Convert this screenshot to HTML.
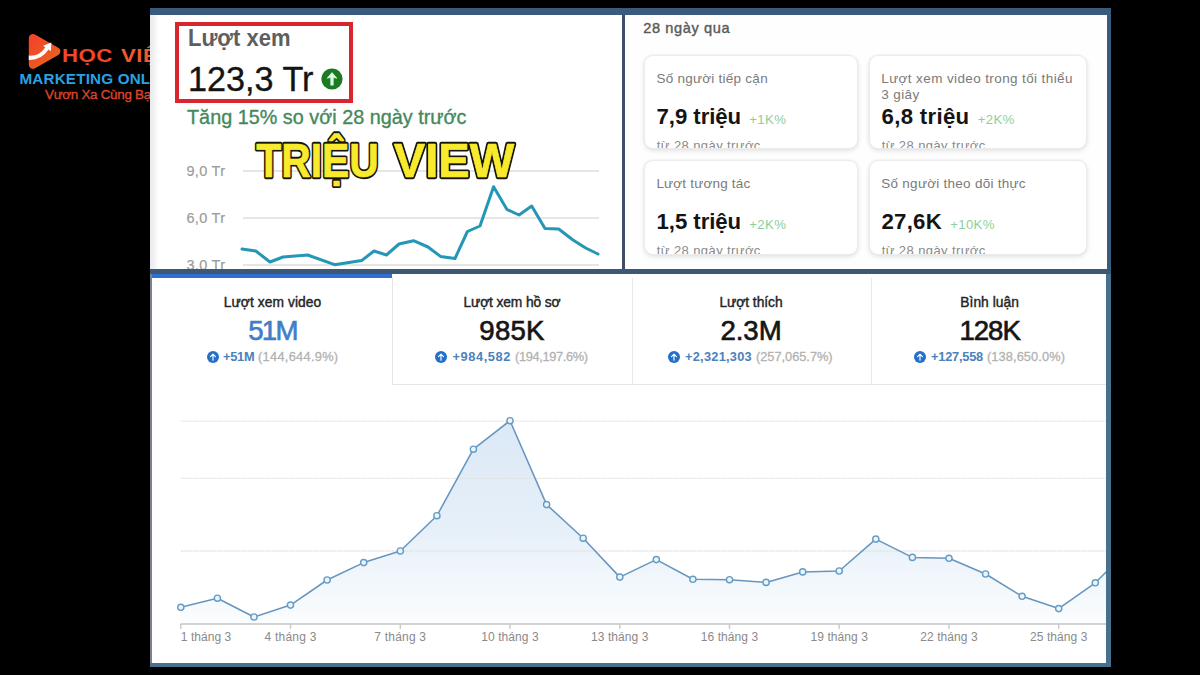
<!DOCTYPE html>
<html><head><meta charset="utf-8"><title>Trieu view</title>
<style>
html,body{margin:0;padding:0;background:#000;}
body{width:1200px;height:675px;position:relative;overflow:hidden;font-family:"Liberation Sans",sans-serif;}
.abs{position:absolute;}
.t{position:absolute;white-space:nowrap;line-height:1;}
.card{position:absolute;width:214.6px;height:95.2px;border-radius:9px;background:#fff;border:1px solid #ececec;box-sizing:border-box;box-shadow:0 2px 5px rgba(0,0,0,.10),0 0 3px rgba(0,0,0,.05);overflow:hidden;}
.card .t{}
</style></head><body>

<!-- logo (clipped by the panel) -->
<div class="abs" id="logo" style="left:0;top:0;width:150px;height:130px;overflow:hidden">
<svg class="abs" style="left:26px;top:31px" width="40" height="42" viewBox="0 0 40 42">
<defs><linearGradient id="lg" x1="0" y1="0" x2="1" y2="1"><stop offset="0" stop-color="#f2452a"/><stop offset="1" stop-color="#e8641f"/></linearGradient></defs>
<path d="M7 7.2 L30.2 20.3 L7 33.6 Z" fill="url(#lg)" stroke="url(#lg)" stroke-width="8.4" stroke-linejoin="round"/>
<path d="M2.8 24.6 Q13 25.6 19.3 16.4 L17.2 14.8 L25.4 11.4 L24.8 20.2 L22.6 18.6 Q15 29.6 2.8 29 Z" fill="#fff"/>
</svg>
<span class="t" style="left:62px;top:48px;font-size:17.5px;font-weight:700;color:#f0472c;letter-spacing:0.4px;transform:scaleX(1.27);transform-origin:0 0;">HỌC</span>
<span class="t" style="left:120.5px;top:48px;font-size:17.5px;font-weight:700;color:#ee5a2a;letter-spacing:0.4px;transform:scaleX(1.27);transform-origin:0 0;">VIỆN</span>
<span class="t" style="left:19.5px;top:71px;font-size:15.2px;font-weight:700;color:#2aa2e2;letter-spacing:0.2px;">MARKETING ONLINE</span>
<span class="t" style="left:45px;top:88px;font-size:13.4px;font-weight:400;color:#dc452c;letter-spacing:-0.28px;-webkit-text-stroke:0.35px #dc452c;">Vươn Xa Cùng Bạn</span>
</div>

<!-- frame -->
<div class="abs" style="left:150px;top:8px;width:961px;height:659px;background:#3a5b7b"></div>
<div class="abs" style="left:150px;top:269px;width:961px;height:398px;background:#47708c"></div>
<div class="abs" style="left:150px;top:269px;width:961px;height:5px;background:#3d5876"></div>
<!-- top-left panel -->
<div class="abs" id="tl" style="left:150px;top:15px;width:472px;height:254px;background:#fff;overflow:hidden"></div>
<div class="abs" style="left:150px;top:15px;width:8px;height:254px;background:linear-gradient(90deg,#e9e9ec,#f3f3f5 60%,#fff)"></div>
<div class="abs" style="left:622px;top:15px;width:3.4px;height:254px;background:#3f4f66"></div>
<!-- top-right panel -->
<div class="abs" id="tr" style="left:625.4px;top:15px;width:481.6px;height:254px;background:#fefefe"></div>
<!-- bottom panel -->
<div class="abs" style="left:150px;top:274px;width:2px;height:389px;background:#7d7f95"></div>
<div class="abs" id="bp" style="left:152px;top:274px;width:954px;height:389px;background:#fff"></div>
<div class="abs" style="left:152px;top:274px;width:240px;height:4px;background:#2f6fd2"></div>
<!-- tab borders -->
<div class="abs" style="left:392px;top:384px;width:714px;height:1px;background:#e6e6e6"></div>
<div class="abs" style="left:392px;top:278px;width:1px;height:106px;background:#e3e3e3"></div>
<div class="abs" style="left:632px;top:278px;width:1px;height:106px;background:#eaeaea"></div>
<div class="abs" style="left:871px;top:278px;width:1px;height:106px;background:#eaeaea"></div>

<!-- top-left chart -->
<div class="abs" style="left:0;top:0;width:1200px;height:269px;overflow:hidden">
<span class="t" style="left:186.5px;top:164px;font-size:14.5px;color:#9c9c9c;letter-spacing:0.3px;-webkit-text-stroke:0.2px #9c9c9c">9,0 Tr</span><div style="position:absolute;left:243px;top:170.0px;width:356px;height:2px;background:#e6e6e6"></div><span class="t" style="left:186.5px;top:211px;font-size:14.5px;color:#9c9c9c;letter-spacing:0.3px;-webkit-text-stroke:0.2px #9c9c9c">6,0 Tr</span><div style="position:absolute;left:243px;top:217.0px;width:356px;height:2px;background:#e6e6e6"></div><span class="t" style="left:186.5px;top:258px;font-size:14.5px;color:#9c9c9c;letter-spacing:0.3px;-webkit-text-stroke:0.2px #9c9c9c">3,0 Tr</span><div style="position:absolute;left:243px;top:264.4px;width:356px;height:2px;background:#e6e6e6"></div>
<svg class="abs" style="left:0;top:0" width="1200" height="269" viewBox="0 0 1200 269"><polyline points="242.0,249.0 255.8,251.0 270.0,262.0 283.0,257.0 307.7,255.0 334.6,264.7 361.6,260.6 374.0,251.0 386.5,255.0 399.0,244.0 413.5,240.7 428.0,247.0 440.5,256.4 455.0,258.5 467.4,231.5 480.0,226.0 493.6,186.7 507.0,209.5 519.0,215.0 531.7,206.0 545.0,228.6 558.7,229.0 573.0,240.0 585.7,248.0 598.0,254.0" fill="none" stroke="#2496b6" stroke-width="3" stroke-linejoin="round" stroke-linecap="round"/></svg>
</div>

<!-- red box -->
<div class="abs" style="left:175px;top:21.7px;width:178.3px;height:81px;border:4px solid #d8262f;box-sizing:border-box"></div>
<!-- green circle -->
<svg class="abs" style="left:321.2px;top:67.6px" width="22" height="22" viewBox="0 0 22 22"><circle cx="11" cy="11" r="10.6" fill="#1b7a22"/><path d="M11 4.6L15.9 10.2L12.3 9.6V17.2H9.7V9.6L6.1 10.2Z" fill="#dcfbe0" stroke="#dcfbe0" stroke-width="0.6" stroke-linejoin="round"/></svg>

<!-- TRIEU VIEW -->
<svg class="abs" style="left:240px;top:120px" width="300" height="80" viewBox="240 120 300 80">
<g font-family="Liberation Sans, sans-serif" font-size="49" font-weight="700" fill="#15150a" stroke="#15150a" stroke-width="4.3" stroke-linejoin="round">
<text x="256.2" y="176.8" textLength="122.6" lengthAdjust="spacingAndGlyphs">TRIỆU</text>
<text x="393.7" y="176.8" textLength="120.6" lengthAdjust="spacingAndGlyphs">VIEW</text>
</g>
<g font-family="Liberation Sans, sans-serif" font-size="49" font-weight="700" fill="#f8ea2c" stroke="#f8ea2c" stroke-width="0.7" stroke-linejoin="round">
<text x="256.2" y="176.8" textLength="122.6" lengthAdjust="spacingAndGlyphs">TRIỆU</text>
<text x="393.7" y="176.8" textLength="120.6" lengthAdjust="spacingAndGlyphs">VIEW</text>
</g>
</svg>

<div class="card" style="left:643.6px;top:55.3px;width:214.0px;height:94.0px"><span class="t" style="left:11.80px;top:15.70px;font-size:13.5px;font-weight:400;color:#7a7a7a;letter-spacing:0.253px;">Số người tiếp cận</span><span class="t" style="left:12.00px;top:49.70px;font-size:22.2px;font-weight:700;color:#141414;letter-spacing:-0.066px;">7,9 triệu</span><span class="t" style="left:104.70px;top:56.70px;font-size:13.2px;font-weight:400;color:#8ccf9a;letter-spacing:0.350px;">+1K%</span><span class="t" style="left:12.20px;top:82.70px;font-size:13px;font-weight:400;color:#8a8a8a;letter-spacing:0.408px;">từ 28 ngày trước</span></div>
<div class="card" style="left:868.5px;top:55.3px;width:218.8px;height:94.0px"><span class="t" style="left:11.80px;top:15.70px;font-size:13.5px;font-weight:400;color:#7a7a7a;letter-spacing:0.384px;">Lượt xem video trong tối thiểu</span><span class="t" style="left:11.80px;top:31.70px;font-size:13.5px;font-weight:400;color:#7a7a7a;letter-spacing:0.384px;">3 giây</span><span class="t" style="left:12.00px;top:49.70px;font-size:22.2px;font-weight:700;color:#141414;letter-spacing:0.323px;">6,8 triệu</span><span class="t" style="left:108.20px;top:56.70px;font-size:13.2px;font-weight:400;color:#8ccf9a;letter-spacing:0.350px;">+2K%</span><span class="t" style="left:12.20px;top:82.70px;font-size:13px;font-weight:400;color:#8a8a8a;letter-spacing:0.408px;">từ 28 ngày trước</span></div>
<div class="card" style="left:643.6px;top:159.7px;width:214.0px;height:95.3px"><span class="t" style="left:11.80px;top:16.30px;font-size:13.5px;font-weight:400;color:#7a7a7a;letter-spacing:0.191px;">Lượt tương tác</span><span class="t" style="left:12.00px;top:50.30px;font-size:22.2px;font-weight:700;color:#141414;letter-spacing:-0.066px;">1,5 triệu</span><span class="t" style="left:104.70px;top:57.30px;font-size:13.2px;font-weight:400;color:#8ccf9a;letter-spacing:0.350px;">+2K%</span><span class="t" style="left:12.20px;top:83.30px;font-size:13px;font-weight:400;color:#8a8a8a;letter-spacing:0.408px;">từ 28 ngày trước</span></div>
<div class="card" style="left:868.5px;top:159.7px;width:218.8px;height:95.3px"><span class="t" style="left:11.80px;top:16.30px;font-size:13.5px;font-weight:400;color:#7a7a7a;letter-spacing:0.261px;">Số người theo dõi thực</span><span class="t" style="left:12.00px;top:50.30px;font-size:22.2px;font-weight:700;color:#141414;letter-spacing:0.256px;">27,6K</span><span class="t" style="left:80.70px;top:57.30px;font-size:13.2px;font-weight:400;color:#8ccf9a;letter-spacing:0.350px;">+10K%</span><span class="t" style="left:12.20px;top:83.30px;font-size:13px;font-weight:400;color:#8a8a8a;letter-spacing:0.408px;">từ 28 ngày trước</span></div>


<!-- bottom chart -->
<svg class="abs" style="left:0;top:400px" width="1106" height="240" viewBox="0 400 1106 240">
<defs><linearGradient id="ag" x1="0" y1="0" x2="0" y2="1"><stop offset="0" stop-color="#dbe8f6"/><stop offset="0.55" stop-color="#e7f0f9"/><stop offset="1" stop-color="#fbfdfe"/></linearGradient></defs>
<polygon points="180.8,624 180.8,607.3 217.4,598.2 254.0,617.0 290.5,605.1 327.1,580.0 363.7,562.6 400.3,551.0 436.9,515.7 473.4,449.2 510.0,420.7 546.6,504.6 583.2,538.2 619.8,577.1 656.3,559.6 692.9,579.3 729.5,579.7 766.1,582.4 802.7,571.9 839.2,571.0 875.8,539.1 912.4,557.4 949.0,558.3 985.6,574.0 1022.1,596.3 1058.7,608.6 1095.3,582.8 1131.9,546.0 1131.9,624" fill="url(#ag)"/>
<g stroke="#e3e3e3" stroke-width="1.3" stroke-dasharray="1.6 0.8"><line x1="181" x2="1106" y1="421.2" y2="421.2"/><line x1="181" x2="1106" y1="478.3" y2="478.3"/><line x1="181" x2="1106" y1="551" y2="551"/></g>
<line x1="180.5" x2="1106" y1="624" y2="624" stroke="#c4c4c4" stroke-width="1.6"/>
<g stroke="#c9c9c9" stroke-width="1.4"><line x1="180.8" x2="180.8" y1="624" y2="629"/><line x1="290.5" x2="290.5" y1="624" y2="629"/><line x1="400.3" x2="400.3" y1="624" y2="629"/><line x1="510.0" x2="510.0" y1="624" y2="629"/><line x1="619.8" x2="619.8" y1="624" y2="629"/><line x1="729.5" x2="729.5" y1="624" y2="629"/><line x1="839.2" x2="839.2" y1="624" y2="629"/><line x1="949.0" x2="949.0" y1="624" y2="629"/><line x1="1058.7" x2="1058.7" y1="624" y2="629"/></g>
<polyline points="180.8,607.3 217.4,598.2 254.0,617.0 290.5,605.1 327.1,580.0 363.7,562.6 400.3,551.0 436.9,515.7 473.4,449.2 510.0,420.7 546.6,504.6 583.2,538.2 619.8,577.1 656.3,559.6 692.9,579.3 729.5,579.7 766.1,582.4 802.7,571.9 839.2,571.0 875.8,539.1 912.4,557.4 949.0,558.3 985.6,574.0 1022.1,596.3 1058.7,608.6 1095.3,582.8 1131.9,546.0" fill="none" stroke="#6696c0" stroke-width="1.55" stroke-linejoin="round"/>
<g fill="#eaf4fa" stroke="#659cc5" stroke-width="1.4"><circle cx="180.8" cy="607.3" r="3.1"/><circle cx="217.4" cy="598.2" r="3.1"/><circle cx="254.0" cy="617.0" r="3.1"/><circle cx="290.5" cy="605.1" r="3.1"/><circle cx="327.1" cy="580.0" r="3.1"/><circle cx="363.7" cy="562.6" r="3.1"/><circle cx="400.3" cy="551.0" r="3.1"/><circle cx="436.9" cy="515.7" r="3.1"/><circle cx="473.4" cy="449.2" r="3.1"/><circle cx="510.0" cy="420.7" r="3.1"/><circle cx="546.6" cy="504.6" r="3.1"/><circle cx="583.2" cy="538.2" r="3.1"/><circle cx="619.8" cy="577.1" r="3.1"/><circle cx="656.3" cy="559.6" r="3.1"/><circle cx="692.9" cy="579.3" r="3.1"/><circle cx="729.5" cy="579.7" r="3.1"/><circle cx="766.1" cy="582.4" r="3.1"/><circle cx="802.7" cy="571.9" r="3.1"/><circle cx="839.2" cy="571.0" r="3.1"/><circle cx="875.8" cy="539.1" r="3.1"/><circle cx="912.4" cy="557.4" r="3.1"/><circle cx="949.0" cy="558.3" r="3.1"/><circle cx="985.6" cy="574.0" r="3.1"/><circle cx="1022.1" cy="596.3" r="3.1"/><circle cx="1058.7" cy="608.6" r="3.1"/><circle cx="1095.3" cy="582.8" r="3.1"/><circle cx="1131.9" cy="546.0" r="3.1"/></g>
</svg>

<svg class="abs" style="left:207.0px;top:350.6px" width="12" height="12" viewBox="0 0 12 12"><circle cx="6" cy="6" r="6" fill="#2470c8"/><path d="M6 9.2V3.2M3.5 5.6L6 3.1L8.5 5.6" stroke="#fff" stroke-width="1.15" fill="none" stroke-linecap="round" stroke-linejoin="round"/></svg><svg class="abs" style="left:435.4px;top:350.6px" width="12" height="12" viewBox="0 0 12 12"><circle cx="6" cy="6" r="6" fill="#2470c8"/><path d="M6 9.2V3.2M3.5 5.6L6 3.1L8.5 5.6" stroke="#fff" stroke-width="1.15" fill="none" stroke-linecap="round" stroke-linejoin="round"/></svg><svg class="abs" style="left:668.4px;top:350.6px" width="12" height="12" viewBox="0 0 12 12"><circle cx="6" cy="6" r="6" fill="#2470c8"/><path d="M6 9.2V3.2M3.5 5.6L6 3.1L8.5 5.6" stroke="#fff" stroke-width="1.15" fill="none" stroke-linecap="round" stroke-linejoin="round"/></svg><svg class="abs" style="left:914.0px;top:350.6px" width="12" height="12" viewBox="0 0 12 12"><circle cx="6" cy="6" r="6" fill="#2470c8"/><path d="M6 9.2V3.2M3.5 5.6L6 3.1L8.5 5.6" stroke="#fff" stroke-width="1.15" fill="none" stroke-linecap="round" stroke-linejoin="round"/></svg>
<span class="t" style="left:187.50px;top:27.00px;font-size:23.6px;font-weight:700;color:#5e5e5e;transform:scaleX(0.9326);transform-origin:0 0;">Lượt xem</span>
<span class="t" style="left:188.30px;top:61.00px;font-size:35px;font-weight:400;color:#141414;transform:scaleX(0.9772);transform-origin:0 0;-webkit-text-stroke:0.35px #141414;">123,3 Tr</span>
<span class="t" style="left:187.00px;top:108.00px;font-size:19.8px;font-weight:400;color:#45895b;letter-spacing:0.021px;-webkit-text-stroke:0.35px #45895b;">Tăng 15% so với 28 ngày trước</span>
<span class="t" style="left:643.20px;top:21.00px;font-size:14.6px;font-weight:400;color:#5a5a5a;letter-spacing:0.605px;-webkit-text-stroke:0.4px #5a5a5a;">28 ngày qua</span>
<span class="t" style="left:223.70px;top:296.00px;font-size:13.8px;font-weight:400;color:#242424;letter-spacing:0.077px;-webkit-text-stroke:0.4px #242424;">Lượt xem video</span>
<span class="t" style="left:248.20px;top:317.00px;font-size:27.6px;font-weight:400;color:#3f7fc6;letter-spacing:-1.696px;-webkit-text-stroke:0.65px #3f7fc6;">51M</span>
<span class="t" style="left:223.00px;top:351.00px;font-size:12.8px;font-weight:700;color:#4a82bc;letter-spacing:-0.244px;">+51M</span>
<span class="t" style="left:258.00px;top:351.00px;font-size:12.8px;font-weight:400;color:#b2b2b2;letter-spacing:0.296px;-webkit-text-stroke:0.3px #b2b2b2;">(144,644.9%)</span>
<span class="t" style="left:463.50px;top:296.00px;font-size:13.8px;font-weight:400;color:#242424;letter-spacing:-0.118px;-webkit-text-stroke:0.4px #242424;">Lượt xem hồ sơ</span>
<span class="t" style="left:479.30px;top:317.00px;font-size:27.6px;font-weight:400;color:#151515;letter-spacing:0.237px;-webkit-text-stroke:0.65px #151515;">985K</span>
<span class="t" style="left:452.40px;top:351.00px;font-size:12.8px;font-weight:700;color:#4a82bc;letter-spacing:0.608px;">+984,582</span>
<span class="t" style="left:515.00px;top:351.00px;font-size:12.8px;font-weight:400;color:#b2b2b2;letter-spacing:-0.354px;-webkit-text-stroke:0.3px #b2b2b2;">(194,197.6%)</span>
<span class="t" style="left:719.40px;top:296.00px;font-size:13.8px;font-weight:400;color:#242424;letter-spacing:-0.035px;-webkit-text-stroke:0.4px #242424;">Lượt thích</span>
<span class="t" style="left:720.40px;top:317.00px;font-size:27.6px;font-weight:400;color:#151515;letter-spacing:-0.040px;-webkit-text-stroke:0.65px #151515;">2.3M</span>
<span class="t" style="left:685.00px;top:351.00px;font-size:12.8px;font-weight:700;color:#4a82bc;letter-spacing:0.259px;">+2,321,303</span>
<span class="t" style="left:756.00px;top:351.00px;font-size:12.8px;font-weight:400;color:#b2b2b2;letter-spacing:-0.020px;-webkit-text-stroke:0.3px #b2b2b2;">(257,065.7%)</span>
<span class="t" style="left:960.30px;top:296.00px;font-size:13.8px;font-weight:400;color:#242424;letter-spacing:0.032px;-webkit-text-stroke:0.4px #242424;">Bình luận</span>
<span class="t" style="left:959.40px;top:317.00px;font-size:27.6px;font-weight:400;color:#151515;letter-spacing:-1.013px;-webkit-text-stroke:0.65px #151515;">128K</span>
<span class="t" style="left:931.00px;top:351.00px;font-size:12.8px;font-weight:700;color:#4a82bc;letter-spacing:-0.217px;">+127,558</span>
<span class="t" style="left:987.00px;top:351.00px;font-size:12.8px;font-weight:400;color:#b2b2b2;letter-spacing:0.096px;-webkit-text-stroke:0.3px #b2b2b2;">(138,650.0%)</span>
<span class="t" style="left:180.80px;top:631.00px;font-size:12px;font-weight:400;color:#8a8a8a;letter-spacing:0.039px;">1 tháng 3</span>
<span class="t" style="left:264.54px;top:631.00px;font-size:12px;font-weight:400;color:#8a8a8a;letter-spacing:0.217px;">4 tháng 3</span>
<span class="t" style="left:374.28px;top:631.00px;font-size:12px;font-weight:400;color:#8a8a8a;letter-spacing:0.217px;">7 tháng 3</span>
<span class="t" style="left:481.27px;top:631.00px;font-size:12px;font-weight:400;color:#8a8a8a;letter-spacing:0.078px;">10 tháng 3</span>
<span class="t" style="left:591.01px;top:631.00px;font-size:12px;font-weight:400;color:#8a8a8a;letter-spacing:0.078px;">13 tháng 3</span>
<span class="t" style="left:700.75px;top:631.00px;font-size:12px;font-weight:400;color:#8a8a8a;letter-spacing:0.078px;">16 tháng 3</span>
<span class="t" style="left:810.49px;top:631.00px;font-size:12px;font-weight:400;color:#8a8a8a;letter-spacing:0.078px;">19 tháng 3</span>
<span class="t" style="left:920.23px;top:631.00px;font-size:12px;font-weight:400;color:#8a8a8a;letter-spacing:0.078px;">22 tháng 3</span>
<span class="t" style="left:1029.97px;top:631.00px;font-size:12px;font-weight:400;color:#8a8a8a;letter-spacing:0.078px;">25 tháng 3</span>
</body></html>
